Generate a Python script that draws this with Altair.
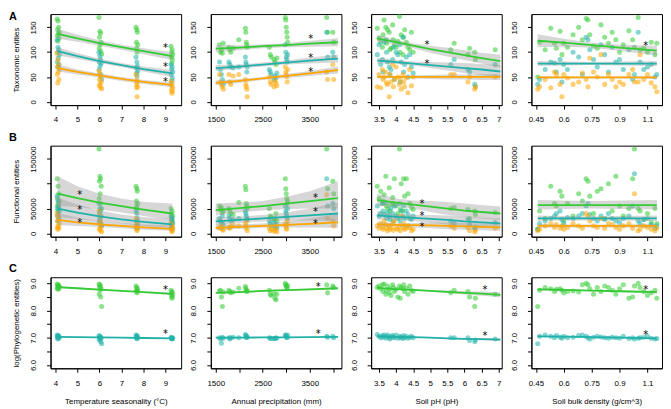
import altair as alt
import pandas as pd

FONT = "Liberation Sans"
SERIES = ["green", "teal", "orange"]
COLORS = ["#33CC33", "#20B2AA", "#FFA500"]

# ---------------- site covariates (x values per column) ----------------
x_temp = [4.08, 4.12, 4.15, 4.10, 4.18, 4.13, 4.09, 4.16, 4.11,
          5.98, 6.02, 6.05, 6.00, 6.08, 6.03, 5.99, 6.06, 6.10,
          7.66, 7.70, 7.72, 7.68, 7.74, 7.69, 7.71,
          9.25, 9.30, 9.28, 9.33, 9.27, 9.31, 9.29]
x_prec = [1580, 1600, 1620, 1640, 1660, 1780, 1800, 1820, 1870, 1990, 2130, 2140, 2150, 2160, 2170,
          2640, 2660, 2680, 2740, 2760, 2780, 2800, 2980, 2990, 3000, 3010, 3020, 3030, 3860, 3880, 3990, 4010]
x_ph = [3.45, 3.5, 3.55, 3.6, 3.62, 3.65, 3.7, 3.72, 3.75, 3.8, 3.82, 3.85, 3.9, 3.92, 3.95, 4.0, 4.05,
        4.1, 4.12, 4.15, 4.2, 4.22, 4.25, 4.3, 4.35, 4.4, 4.45, 4.5, 5.6, 5.7, 6.1, 6.15, 6.3, 6.32, 6.9]
x_bd = [0.46, 0.47, 0.5, 0.53, 0.55, 0.56, 0.58, 0.59, 0.6, 0.62, 0.65, 0.68, 0.7, 0.72, 0.73, 0.74, 0.76,
        0.78, 0.8, 0.82, 0.84, 0.86, 0.88, 0.9, 0.92, 0.95, 0.97, 0.98, 1.0, 1.01, 1.03, 1.05, 1.07, 1.09, 1.1]

# ---------------- Row A: taxonomic entities ----------------
taxo_green = {
    "temp": [167, 163, 150, 145, 140, 137, 133, 128, 122, 170, 142, 138, 130, 120, 115, 108, 102, 96,
             150, 145, 140, 120, 115, 108, 100, 112, 105, 100, 95, 90, 85, 78],
    "prec": [115, 100, 105, 98, 118, 110, 105, 100, 108, 125, 148, 140, 120, 115, 110, 110, 95, 90, 85, 80,
             75, 88, 170, 165, 150, 140, 130, 120, 170, 140, 140, 120],
    "ph": [148, 128, 120, 110, 135, 165, 150, 118, 145, 140, 105, 108, 155, 125, 115, 110, 122, 172, 100,
           135, 95, 130, 145, 120, 110, 105, 140, 100, 105, 118, 95, 108, 100, 85, 105],
    "bd": [50, 120, 105, 148, 118, 108, 142, 95, 118, 110, 135, 150, 125, 168, 165, 135, 112, 108, 155, 130,
           118, 140, 125, 100, 115, 143, 125, 110, 170, 105, 108, 100, 120, 95, 118],
}
taxo_teal = {
    "temp": [125, 110, 105, 100, 95, 88, 80, 75, 70, 100, 92, 85, 80, 77, 72, 65, 55, 45,
             90, 80, 72, 68, 62, 58, 52, 75, 70, 65, 60, 55, 48, 42],
    "prec": [80, 65, 55, 45, 35, 80, 75, 70, 68, 70, 90, 80, 75, 60, 70, 65, 60, 55, 45, 52, 48, 58,
             115, 100, 90, 85, 80, 95, 140, 90, 100, 90],
    "ph": [95, 115, 75, 85, 60, 120, 125, 100, 80, 70, 55, 65, 85, 110, 45, 100, 95, 115, 40, 80, 130, 60,
           75, 90, 50, 95, 70, 58, 75, 85, 65, 60, 35, 30, 75],
    "bd": [35, 45, 65, 80, 78, 60, 85, 40, 75, 65, 100, 90, 55, 130, 125, 105, 85, 70, 115, 95, 60, 110,
           80, 85, 65, 105, 45, 55, 140, 80, 65, 70, 75, 50, 55],
}
taxo_orange = {
    "temp": [98, 85, 75, 70, 66, 60, 55, 45, 38, 62, 56, 50, 45, 40, 35, 32, 28, 26,
             55, 45, 40, 35, 30, 28, 10, 42, 36, 32, 27, 24, 20, 17],
    "prec": [55, 40, 35, 30, 25, 55, 40, 35, 52, 55, 45, 35, 30, 25, 10, 50, 40, 35, 30, 42, 38, 32,
             70, 60, 55, 50, 40, 65, 60, 45, 75, 45],
    "ph": [30, 55, 28, 65, 45, 50, 60, 38, 35, 10, 55, 40, 75, 30, 45, 70, 50, 35, 45, 25, 55, 40, 30, 48,
           18, 65, 32, 50, 55, 55, 40, 50, 25, 30, 50],
    "bd": [25, 30, 45, 28, 60, 55, 35, 10, 55, 48, 35, 40, 58, 45, 30, 88, 60, 50, 95, 35, 55, 45, 30, 40,
           35, 55, 65, 40, 40, 95, 45, 55, 38, 30, 20],
}

# ---------------- Row B: functional entities (thousands) ----------------
func_green = {
    "temp": [110, 95, 80, 70, 65, 60, 55, 50, 45, 170, 115, 110, 105, 95, 80, 70, 60, 50,
             95, 90, 85, 65, 60, 55, 50, 50, 45, 40, 35, 30, 25, 20],
    "prec": [55, 48, 52, 42, 45, 50, 45, 40, 38, 62, 95, 88, 60, 55, 50, 50, 35, 32, 28, 30, 40, 25,
             110, 90, 80, 70, 60, 65, 170, 90, 105, 80],
    "ph": [95, 70, 85, 60, 65, 78, 115, 55, 50, 92, 45, 58, 72, 60, 110, 55, 40, 170, 48, 100, 45, 110,
           75, 110, 80, 60, 52, 48, 50, 52, 48, 30, 45, 38, 42],
    "bd": [8, 45, 30, 95, 60, 55, 85, 75, 25, 60, 35, 80, 65, 110, 105, 75, 40, 85, 90, 30, 100, 45,
           115, 55, 35, 50, 110, 170, 50, 45, 28, 40, 22, 50, 20],
}
func_teal = {
    "temp": [75, 65, 55, 50, 45, 40, 35, 30, 25, 60, 50, 45, 40, 35, 30, 25, 20, 15,
             45, 40, 30, 25, 20, 15, 10, 35, 30, 25, 20, 15, 10, 8],
    "prec": [30, 25, 22, 35, 18, 35, 30, 25, 28, 30, 45, 40, 35, 30, 28, 25, 20, 15, 22, 12, 18, 10,
             55, 45, 40, 35, 30, 50, 110, 55, 60, 50],
    "ph": [55, 35, 40, 60, 45, 38, 62, 30, 42, 35, 28, 50, 40, 25, 55, 35, 30, 60, 25, 45, 35, 55, 30, 45,
           38, 30, 28, 35, 25, 20, 28, 18, 10, 12, 22],
    "bd": [8, 20, 25, 30, 35, 40, 45, 28, 20, 32, 30, 35, 40, 55, 60, 38, 30, 25, 35, 28, 40, 30, 25, 22,
           30, 35, 55, 120, 25, 20, 28, 30, 18, 10, 15],
}
func_orange = {
    "temp": [40, 35, 30, 25, 20, 15, 12, 10, 8, 45, 35, 25, 20, 15, 10, 8, 5, 3,
             30, 20, 15, 12, 10, 8, 5, 20, 15, 12, 10, 8, 5, 3],
    "prec": [12, 10, 15, 8, 6, 12, 10, 14, 18, 15, 20, 15, 10, 25, 5, 10, 5, 8, 4, 6, 12, 3,
             20, 15, 10, 8, 18, 25, 78, 30, 25, 15],
    "ph": [15, 10, 20, 12, 8, 25, 18, 10, 5, 15, 8, 12, 20, 6, 25, 10, 8, 15, 5, 35, 12, 20, 8, 10, 15,
           12, 5, 8, 15, 10, 12, 5, 3, 6, 10],
    "bd": [5, 8, 15, 20, 12, 18, 10, 15, 8, 12, 20, 15, 10, 40, 35, 25, 15, 12, 30, 10, 20, 18, 12, 8,
           15, 20, 10, 80, 5, 8, 15, 12, 8, 5, 10],
}

# ---------------- Row C: log(phylogenetic entities) ----------------
phylo_green = {
    "temp": [8.98, 8.95, 8.92, 8.9, 8.88, 8.85, 8.82, 8.8, 8.78, 8.98, 8.95, 8.9, 8.85, 8.8, 8.75, 8.6, 8.5,
             8.15, 8.9, 8.85, 8.8, 8.75, 8.72, 8.7, 8.65, 8.75, 8.7, 8.65, 8.6, 8.55, 8.5, 8.45],
    "prec": [8.72, 8.75, 8.5, 8.15, 8.68, 8.75, 8.7, 8.65, 8.68, 8.82, 8.88, 8.82, 8.75, 8.7, 8.72, 8.75,
             8.6, 8.55, 8.62, 8.45, 8.4, 8.6, 9.0, 8.95, 8.9, 8.85, 8.8, 8.92, 8.95, 8.65, 8.9, 8.85],
    "ph": [8.85, 8.9, 8.8, 8.95, 8.7, 8.98, 8.6, 8.75, 8.9, 8.65, 8.8, 8.55, 8.95, 8.85, 8.7, 8.78, 8.5,
           8.9, 8.45, 8.85, 8.8, 8.95, 8.7, 8.82, 8.6, 8.9, 8.75, 8.7, 8.65, 8.75, 8.7, 8.5, 8.15, 8.45, 8.6],
    "bd": [8.15, 8.75, 8.85, 8.8, 8.7, 8.78, 8.8, 8.75, 8.65, 8.7, 8.72, 8.68, 8.95, 9.0, 8.95, 8.8, 8.6,
           8.85, 8.7, 8.9, 8.85, 8.75, 8.6, 8.8, 8.95, 8.45, 8.5, 8.9, 9.0, 8.85, 8.7, 8.55, 8.65, 8.75, 8.45],
}
phylo_teal = {
    "temp": [7.1, 7.08, 7.06, 7.05, 7.03, 7.02, 7.0, 6.98, 6.95, 7.08, 7.05, 7.03, 7.0, 6.98, 6.95, 6.92,
             6.85, 6.78, 7.1, 7.08, 7.05, 7.02, 7.0, 6.98, 6.96, 7.02, 7.0, 6.99, 6.98, 6.97, 6.96, 6.95],
    "prec": [7.0, 6.95, 6.8, 7.02, 6.98, 7.0, 6.95, 7.0, 7.02, 7.0, 7.12, 7.08, 7.0, 7.05, 7.02, 7.0, 6.98,
             6.97, 6.96, 6.97, 7.0, 6.98, 7.1, 7.08, 7.05, 7.0, 7.02, 7.1, 7.05, 7.02, 7.05, 7.0],
    "ph": [7.12, 7.05, 7.0, 7.08, 7.02, 7.1, 6.98, 7.05, 7.1, 7.0, 6.95, 7.05, 7.08, 7.02, 7.0, 7.1, 6.98,
           7.05, 7.0, 7.03, 6.97, 7.08, 7.0, 7.05, 6.98, 7.02, 7.05, 7.0, 7.0, 7.0, 7.0, 6.9, 6.85, 6.92, 6.95],
    "bd": [6.78, 7.05, 7.1, 7.05, 7.0, 7.08, 7.02, 6.98, 7.05, 7.0, 7.02, 7.08, 7.1, 7.05, 7.0, 6.95, 7.02,
           7.05, 7.03, 7.0, 6.98, 7.02, 7.0, 6.98, 7.05, 6.97, 7.0, 6.95, 6.98, 7.0, 7.02, 7.05, 6.98, 6.95, 6.97],
}

# ---------------- fitted curves and confidence bands ----------------
fit_x = {"temp": [4.1, 5, 6, 7, 8, 9.3], "prec": [1500, 2000, 2500, 3000, 3500, 4100],
         "ph": [3.45, 4.0, 4.5, 5.0, 5.5, 6.0, 6.5, 7.05], "bd": [0.46, 0.6, 0.75, 0.9, 1.1]}

fits = {
    ("A", "temp"): {"green": ([137, 128, 118, 110, 102, 92], [127, 121, 113, 105, 96, 84], [147, 135, 124, 115, 108, 100]),
                    "teal": ([102, 92, 82, 74, 66, 57], [94, 86, 78, 70, 61, 50], [110, 98, 87, 78, 71, 64]),
                    "orange": ([68, 60, 53, 46, 40, 34], [61, 55, 49, 42, 36, 29], [75, 65, 57, 50, 44, 39])},
    ("A", "prec"): {"green": ([107, 109, 112, 114, 117, 120], [100, 104, 108, 110, 111, 112], [114, 114, 116, 118, 123, 128]),
                    "teal": ([68, 71, 75, 79, 83, 87], [62, 67, 71, 75, 77, 79], [74, 75, 79, 83, 89, 95]),
                    "orange": ([38, 42, 47, 52, 57, 64], [33, 38, 44, 48, 52, 57], [43, 46, 50, 56, 62, 71])},
    ("A", "ph"): {"green": ([128, 120, 113, 106, 100, 94, 88, 82], [121, 115, 108, 99, 91, 84, 77, 69], [135, 125, 118, 113, 109, 104, 99, 95]),
                  "teal": ([83, 80, 77, 74, 71, 68, 65, 61], [77, 76, 73, 68, 63, 58, 54, 48], [89, 84, 81, 80, 79, 78, 76, 74]),
                  "orange": ([50, 50, 50, 50, 50, 50, 50, 50], [47, 48, 47, 46, 45, 45, 44, 44], [53, 52, 53, 54, 55, 55, 56, 56])},
    ("A", "bd"): {"green": ([123, 119, 114, 109, 103], [110, 111, 109, 103, 93], [136, 127, 119, 115, 113]),
                  "teal": ([77, 77, 77, 77, 77], [72, 73, 74, 73, 72], [82, 81, 80, 81, 82]),
                  "orange": ([49, 49, 49, 49, 49], [46, 47, 47, 47, 46], [52, 51, 51, 51, 52])},
    ("B", "temp"): {"green": ([80, 71, 62, 55, 48, 40], [55, 53, 48, 42, 35, 27], [115, 95, 80, 70, 63, 60]),
                    "teal": ([50, 42, 34, 28, 23, 18], [33, 29, 25, 20, 15, 11], [72, 58, 46, 38, 33, 29]),
                    "orange": ([27, 22, 18, 15, 12, 9], [17, 15, 13, 10, 7, 5], [41, 32, 25, 21, 18, 16])},
    ("B", "prec"): {"green": ([47, 51, 55, 60, 65, 71], [36, 42, 46, 49, 50, 50], [60, 62, 65, 74, 85, 105]),
                    "teal": ([24, 27, 30, 33, 36, 40], [17, 21, 24, 26, 26, 24], [33, 34, 37, 42, 50, 62]),
                    "orange": ([11, 13, 15, 17, 19, 22], [6, 9, 11, 12, 12, 11], [18, 18, 20, 24, 30, 40])},
    ("B", "ph"): {"green": ([67, 62, 58, 54, 50, 46, 43, 40], [55, 54, 50, 43, 37, 33, 30, 27], [80, 70, 66, 65, 63, 60, 57, 54]),
                  "teal": ([36, 33, 31, 29, 27, 24, 22, 20], [28, 28, 25, 21, 18, 15, 13, 11], [44, 38, 37, 37, 36, 34, 32, 30]),
                  "orange": ([18, 17, 16.5, 16, 15, 14, 13, 12], [13, 14, 12, 10, 8, 7, 6, 5], [23, 20, 21, 22, 22, 21, 20, 20])},
    ("B", "bd"): {"green": ([57, 57, 57, 57, 57], [48, 49, 50, 49, 48], [67, 66, 65, 66, 67]),
                  "teal": ([30, 30, 30, 30, 30], [25, 26, 26, 26, 25], [36, 35, 34, 35, 36]),
                  "orange": ([15, 15, 15, 15, 15], [11, 12, 12, 12, 11], [19, 18, 18, 18, 19])},
    ("C", "temp"): {"green": ([8.86, 8.82, 8.77, 8.72, 8.68, 8.61], [8.82, 8.79, 8.75, 8.70, 8.65, 8.56], [8.90, 8.85, 8.79, 8.74, 8.71, 8.66]),
                    "teal": ([7.03, 7.02, 7.01, 7.0, 6.99, 6.98], [7.01, 7.005, 7.0, 6.99, 6.98, 6.96], [7.05, 7.035, 7.02, 7.01, 7.0, 7.0])},
    ("C", "prec"): {"green": ([8.65, 8.68, 8.72, 8.75, 8.78, 8.82], [8.61, 8.65, 8.70, 8.73, 8.75, 8.78], [8.69, 8.71, 8.74, 8.77, 8.81, 8.86]),
                    "teal": ([7.0, 7.005, 7.01, 7.015, 7.02, 7.03], [6.98, 6.99, 7.0, 7.005, 7.005, 7.01], [7.02, 7.02, 7.02, 7.025, 7.035, 7.05])},
    ("C", "ph"): {"green": ([8.83, 8.79, 8.76, 8.72, 8.69, 8.65, 8.62, 8.58], [8.80, 8.77, 8.74, 8.69, 8.64, 8.59, 8.54, 8.49], [8.86, 8.81, 8.78, 8.75, 8.74, 8.71, 8.70, 8.67]),
                  "teal": ([7.05, 7.03, 7.02, 7.0, 6.98, 6.96, 6.95, 6.93], [7.03, 7.02, 7.01, 6.98, 6.96, 6.93, 6.91, 6.88], [7.07, 7.04, 7.03, 7.02, 7.0, 6.99, 6.99, 6.98])},
    ("C", "bd"): {"green": ([8.78, 8.76, 8.73, 8.71, 8.68], [8.74, 8.73, 8.71, 8.68, 8.63], [8.82, 8.79, 8.75, 8.74, 8.73]),
                  "teal": ([7.05, 7.04, 7.02, 7.0, 6.98], [7.03, 7.025, 7.01, 6.99, 6.96], [7.07, 7.055, 7.03, 7.01, 7.0])},
}

# significance stars: (x, [y...])
stars = {
    ("A", "temp"): (9.0, [115, 77, 47]), ("A", "prec"): (3520, [134, 95, 67]),
    ("A", "ph"): (4.9, [121, 84]), ("A", "bd"): (1.04, [120]),
    ("B", "temp"): (5.1, [85, 53, 28]), ("B", "prec"): (3620, [79, 49, 26]),
    ("B", "ph"): (4.76, [67, 41, 19]), ("B", "bd"): (1.04, []),
    ("C", "temp"): (9.0, [8.89, 7.25]), ("C", "prec"): (3680, [9.0, 7.25]),
    ("C", "ph"): (6.6, [8.9, 7.2]), ("C", "bd"): (1.04, [8.9, 7.22]),
}

COLS = ["temp", "prec", "ph", "bd"]
XS = {"temp": x_temp, "prec": x_prec, "ph": x_ph, "bd": x_bd}
XDOM = {"temp": [3.78, 9.71], "prec": [1395, 4174], "ph": [3.27, 7.09], "bd": [0.426, 1.128]}
XTITLE = {"temp": "Temperature seasonality (°C)", "prec": "Annual precipitation (mm)",
          "ph": "Soil pH (pH)", "bd": "Soil bulk density (g/cm^3)"}
XAX = {"temp": dict(values=[4, 5, 6, 7, 8, 9], format="d"),
       "prec": dict(values=[1500, 2000, 2500, 3000, 3500, 4000],
                    labelExpr="datum.value % 1000 == 0 ? '' : format(datum.value, 'd')"),
       "ph": dict(values=[3.5, 4, 4.5, 5, 5.5, 6, 6.5, 7], format="~g"),
       "bd": dict(values=[0.45, 0.6, 0.75, 0.9, 1.05], format="~g")}

ROWS = ["A", "B", "C"]
YDATA = {"A": {"green": taxo_green, "teal": taxo_teal, "orange": taxo_orange},
         "B": {"green": func_green, "teal": func_teal, "orange": func_orange},
         "C": {"green": phylo_green, "teal": phylo_teal}}
YDOM = {"A": [-6.8, 176.8], "B": [-6.8, 176.8], "C": [5.876, 9.224]}
YTITLE = {"A": "Taxonomic entities", "B": "Functional entities", "C": "log(Phylogenetic entities)"}
YAX = {"A": dict(values=[0, 50, 100, 150], format="d"),
       "B": dict(values=[0, 50, 100, 150],
                 labelExpr="datum.value == 100 ? '' : format(datum.value * 1000, 'd')"),
       "C": dict(values=[6, 6.5, 7, 7.5, 8, 8.5, 9],
                 labelExpr="datum.value % 1 == 0 ? format(datum.value, '.1f') : ''")}

W, H = 132, 92


def panel(r, c):
    ci = COLS.index(c)
    xs = XS[c]
    rows_pts = []
    for s, ys in YDATA[r].items():
        for xv, yv in zip(xs, ys[c]):
            rows_pts.append({"x": xv, "y": yv, "s": s})
    pts = pd.DataFrame(rows_pts)
    fl = []
    for s, (yy, lo, hi) in fits[(r, c)].items():
        for xv, a, b, d in zip(fit_x[c], yy, lo, hi):
            fl.append({"x": xv, "y": a, "lo": b, "hi": d, "s": s})
    fdf = pd.DataFrame(fl)

    xaxis = alt.Axis(title=XTITLE[c] if r == "C" else "", titlePadding=11, labelPadding=7, **XAX[c])
    yaxis = alt.Axis(title=YTITLE[r] if ci == 0 else "", labelAngle=270, labelPadding=9,
                     titlePadding=9, **YAX[r])
    xs_ = alt.Scale(domain=XDOM[c], nice=False, zero=False)
    ys_ = alt.Scale(domain=YDOM[r], nice=False, zero=False)
    cscale = alt.Scale(domain=SERIES, range=COLORS)

    X = alt.X("x:Q", scale=xs_, axis=xaxis)
    pts_layer = alt.Chart(pts).mark_circle(size=26, opacity=0.55).encode(
        x=X, y=alt.Y("y:Q", scale=ys_, axis=yaxis),
        color=alt.Color("s:N", scale=cscale, legend=None))
    band = alt.Chart(fdf).mark_area(color="#9A9A9A", opacity=0.4).encode(
        x=X, y=alt.Y("lo:Q", scale=ys_, axis=yaxis), y2="hi:Q", detail="s:N")
    line = alt.Chart(fdf).mark_line(strokeWidth=1.8).encode(
        x=X, y=alt.Y("y:Q", scale=ys_, axis=yaxis),
        color=alt.Color("s:N", scale=cscale, legend=None), detail="s:N")
    layers = [pts_layer, band, line]
    sx, sys = stars[(r, c)]
    if sys:
        sdf = pd.DataFrame({"x": [sx] * len(sys), "y": sys, "t": ["*"] * len(sys)})
        layers.append(alt.Chart(sdf).mark_text(fontSize=10, font="DejaVu Sans", dy=3.5,
                                               color="black").encode(
            x=X, y=alt.Y("y:Q", scale=ys_, axis=yaxis), text="t:N"))
    if ci == 0:
        ldf = pd.DataFrame({"t": [r]})
        ly = -3 if r == "A" else -14
        layers.append(alt.Chart(ldf).mark_text(fontSize=11, fontWeight="bold", font=FONT,
                                                align="left", baseline="top", color="black").encode(
            x=alt.value(-42), y=alt.value(ly), text="t:N"))
    return alt.layer(*layers).properties(width=W, height=H)


panels = [panel(r, c) for r in ROWS for c in COLS]
chart = alt.concat(*panels, columns=4, spacing={"row": 41, "column": 30}, bounds="flush").properties(
    padding={"left": 0, "top": 0, "right": 0, "bottom": 0}
).configure_view(
    stroke="black", strokeWidth=1
).configure_axis(
    grid=False, domainColor="black", tickColor="black", labelColor="black", titleColor="black",
    labelFont=FONT, titleFont=FONT, labelFontSize=8, titleFontSize=8, titleFontWeight="normal",
    tickSize=4, labelOverlap=False, labelFlush=False
)

chart.save("out.html", embed_options={"renderer": "svg", "actions": False})
